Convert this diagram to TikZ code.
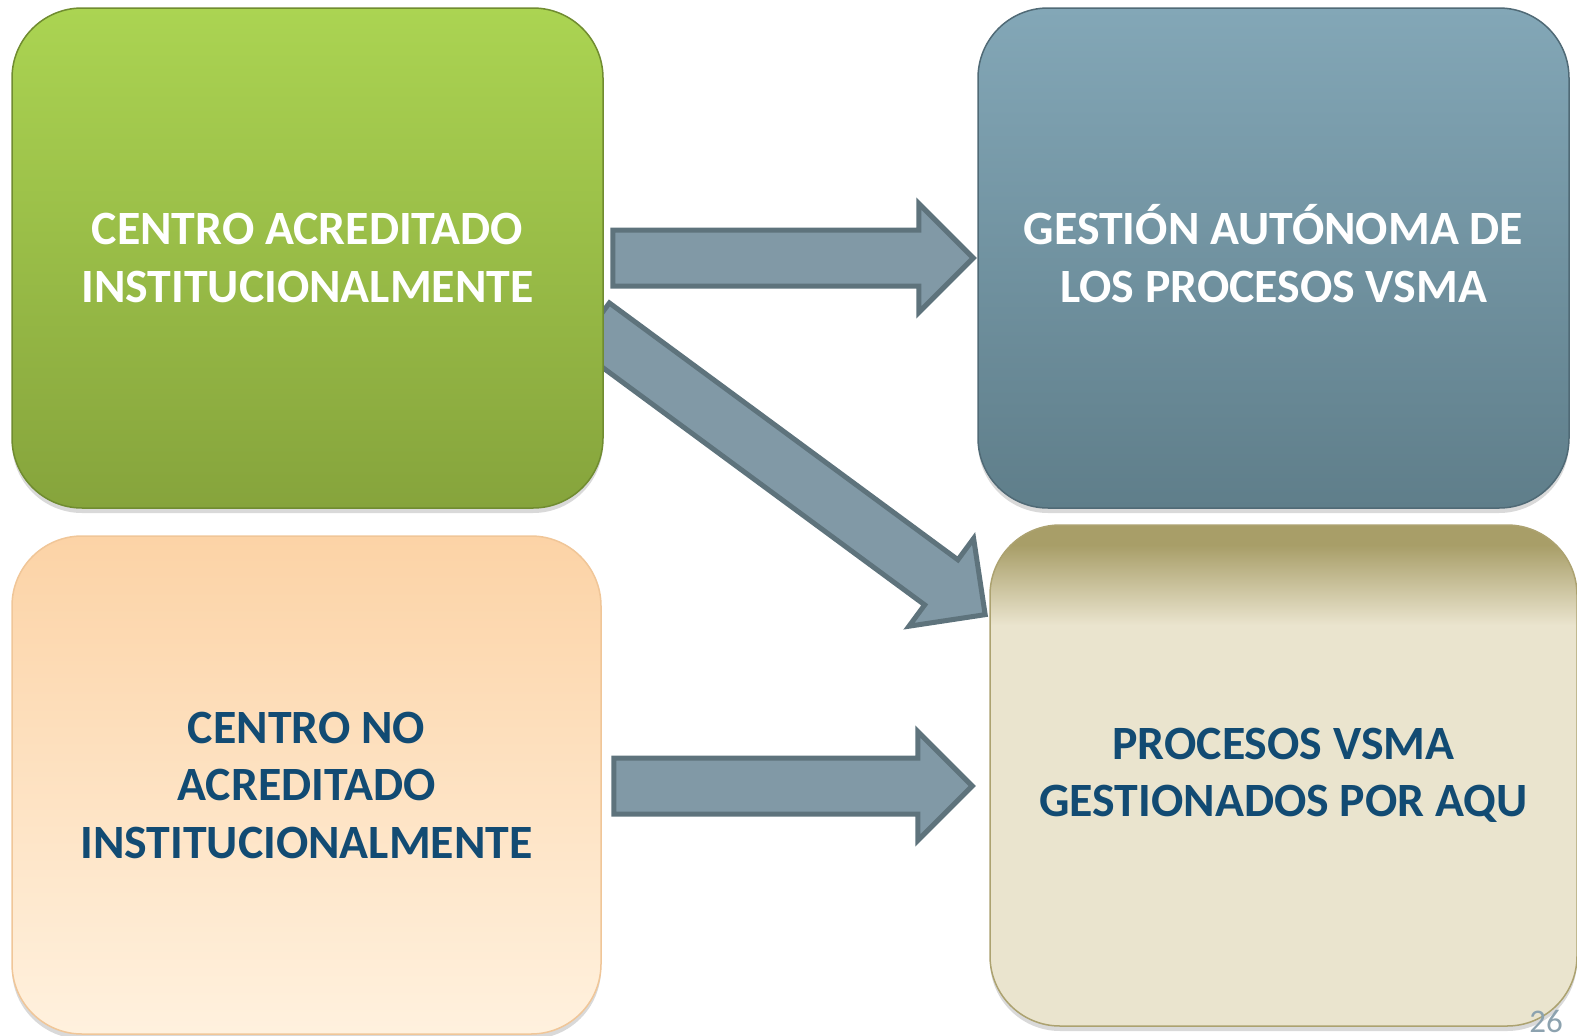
\documentclass[tikz,border=0pt]{standalone}
\usepackage{fontspec}
\setmainfont{Carlito}
\usetikzlibrary{shapes.arrows,calc,shadows,backgrounds}

\definecolor{limeTop}{RGB}{171,212,82}
\definecolor{limeBot}{RGB}{134,164,60}
\definecolor{limeLine}{RGB}{112,140,48}
\definecolor{slateTop}{RGB}{131,167,183}
\definecolor{slateBot}{RGB}{95,126,138}
\definecolor{slateLine}{RGB}{80,106,118}
\definecolor{peachTop}{RGB}{252,211,166}
\definecolor{peachBot}{RGB}{255,241,222}
\definecolor{peachLine}{RGB}{240,198,152}
\definecolor{sandTop}{RGB}{168,158,104}
\definecolor{sandBot}{RGB}{234,228,206}
\definecolor{sandLine}{RGB}{172,162,112}
\definecolor{arrowFill}{RGB}{129,153,166}
\definecolor{arrowLine}{RGB}{94,115,124}
\definecolor{navyText}{RGB}{18,75,115}
\definecolor{pageNum}{RGB}{140,162,175}

\pgfdeclareverticalshading{sandshade}{100bp}{color(0bp)=(sandBot); color(65bp)=(sandBot); color(73bp)=(sandTop); color(100bp)=(sandTop)}

\tikzset{
  card/.style={rounded corners=70pt, minimum width=591pt, minimum height=500pt,
    align=center, line width=1.5pt, font=\fontsize{47.8}{57.5}\selectfont\bfseries,
    drop shadow={shadow xshift=0pt, shadow yshift=-5pt, opacity=0.3}},
  blockarrow/.style={single arrow, single arrow head extend=26.5pt, inner sep=0pt,
    inner ysep=25.5pt, fill=arrowFill, draw=arrowLine, line width=5pt},
}

% block arrow from #1 (tail) to #2 (tip)
\newcommand\arrowbetween[2]{%
  \path let \p1=($(#2)-(#1)$), \n1={veclen(\x1,\y1)}, \n2={atan2(\y1,\x1)} in
    node[blockarrow, anchor=tail, minimum height=\n1, rotate=\n2] at (#1) {};}
% line with accents, kept at cap height
\newcommand\capline[1]{\smash{#1}\vphantom{E}}

\begin{document}
\begin{tikzpicture}[x=1pt, y=-1pt]
    \useasboundingbox (0,0) rectangle (1577,1036);
    %boxes
    \node[card, top color=limeTop, bottom color=limeBot, draw=limeLine, text=white]
      (acreditado) at (307.5,258) {CENTRO ACREDITADO\\INSTITUCIONALMENTE};
    \node[card, top color=slateTop, bottom color=slateBot, draw=slateLine, text=white]
      (autonoma) at (1273.5,258) {\capline{GESTIÓN AUTÓNOMA DE}\\LOS PROCESOS VSMA};
    \node[card, minimum width=589pt, minimum height=498pt, top color=peachTop,
      bottom color=peachBot, draw=peachLine, text=navyText]
      (noacreditado) at (306.5,785) {CENTRO NO\\ACREDITADO\\INSTITUCIONALMENTE};
    \node[card, minimum width=587pt, minimum height=501pt, shading=sandshade,
      draw=sandLine, text=navyText]
      (aqu) at (1283.5,775.5) {PROCESOS VSMA\\GESTIONADOS POR AQU};
    \node[font=\fontsize{33}{33}\selectfont, text=pageNum, anchor=base east, inner sep=0pt]
      (pagina) at (1563,1032) {26};
    %arrows
    \coordinate (a1) at ([xshift=6.5pt]acreditado.east);
    \coordinate (b1) at ([xshift=-6.5pt]autonoma.west);
    \coordinate (a2) at ([xshift=-13pt, yshift=-66pt]acreditado.east);
    \coordinate (b2) at ([xshift=-6pt, yshift=-89pt]aqu.north west);
    \coordinate (a3) at ([xshift=9.5pt, yshift=-1pt]noacreditado.east);
    \coordinate (b3) at ([xshift=-19.5pt]aqu.west |- a3);
    \begin{scope}[on background layer]
      \arrowbetween{a1}{b1}
      \arrowbetween{a2}{b2}
      \arrowbetween{a3}{b3}
    \end{scope}
\end{tikzpicture}
\end{document}
